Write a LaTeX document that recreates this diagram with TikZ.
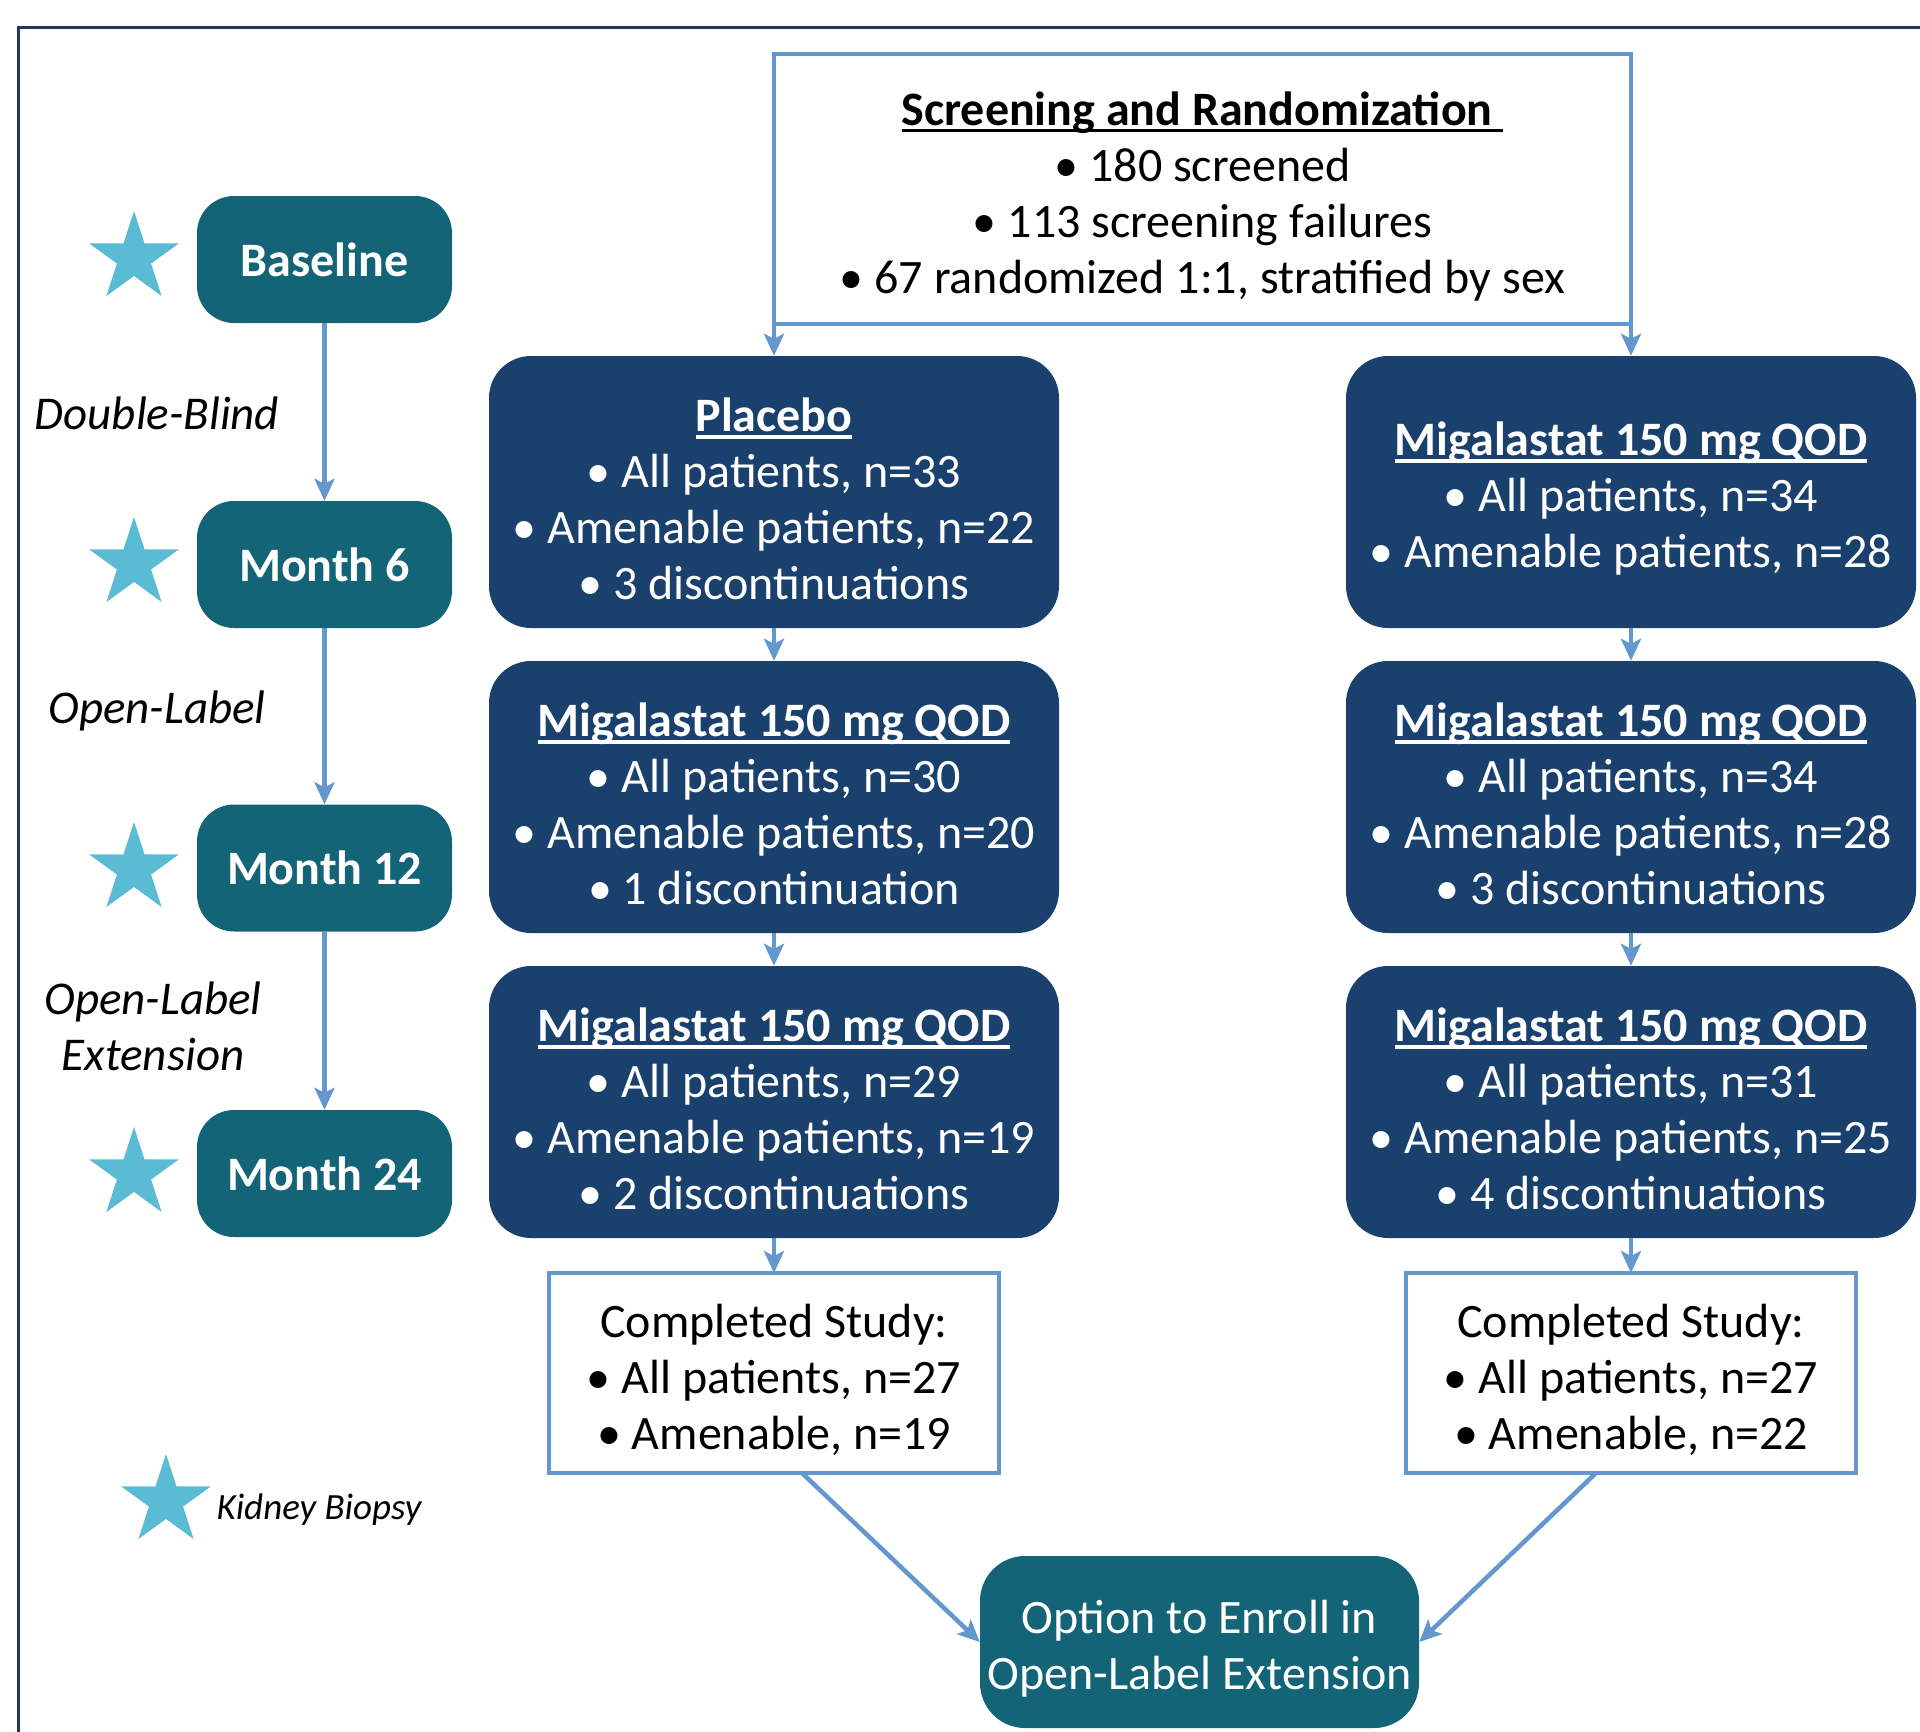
\documentclass[tikz,border=0pt]{standalone}
\usepackage{fontspec}
\setmainfont{Carlito}
\usetikzlibrary{shapes.geometric,arrows.meta}
\definecolor{cTeal}{HTML}{146477}
\definecolor{cNavy}{HTML}{1A406E}
\definecolor{cLine}{HTML}{6397CD}
\definecolor{cStar}{HTML}{5ABBD4}
\definecolor{cFrame}{HTML}{1F3A5F}
\newcommand\myul[1]{\setbox0\hbox{#1}\rlap{\rule[-7pt]{\wd0}{3.5pt}}\box0}
\tikzset{
  timebox/.style={rectangle, rounded corners=37pt, fill=cTeal, text=white,
    minimum width=255pt, minimum height=127pt, inner sep=0pt,
    font=\fontsize{48}{57}\selectfont\bfseries},
  armbox/.style={rectangle, rounded corners=42pt, fill=cNavy,
    minimum width=570pt, minimum height=272pt, inner sep=0pt},
  openbox/.style={rectangle, draw=cLine, line width=4.5pt, fill=white,
    inner sep=0pt, outer sep=0pt},
  optbox/.style={rectangle, rounded corners=45pt, fill=cTeal,
    minimum width=439pt, minimum height=172pt, inner sep=0pt},
  wtxt/.style={text=white, align=center, inner sep=0pt, yshift=-7pt,
    font=\fontsize{48}{56}\selectfont},
  btxt/.style={text=black, align=center, inner sep=0pt, yshift=-7pt,
    font=\fontsize{48}{56}\selectfont},
  arr/.style={draw=cLine, line width=4.5pt, -{Stealth[length=22pt,width=20pt,inset=5pt]}},
  kstar/.style={star, star points=5, star point ratio=2.618, fill=cStar,
    minimum size=94pt, inner sep=0pt, draw=none},
  phase/.style={align=center, font=\fontsize{47}{56}\selectfont\itshape}
}
\begin{document}
\begin{tikzpicture}[x=1pt,y=-1pt]
\useasboundingbox (0,0) rectangle (1920,1732);
% frame
\draw[cFrame, line width=3pt] (18,1732) -- (18,27) -- (1920,27);

% screening
\node[openbox, minimum width=857pt, minimum height=270pt,
  label={[btxt]center:{{\bfseries\myul{Screening and Randomization\ }}\\
   • 180 screened\\
   • 113 screening failures\\
   • 67 randomized 1:1, stratified by sex}}] (sc) at (1202.5,189) {};

% timeline
\node[timebox] (bl) at (324.5,259.5) {Baseline};
\node[timebox] (m6) at (324.5,564.5) {Month 6};
\node[timebox] (m12) at (324.5,868) {Month 12};
\node[timebox] (m24) at (324.5,1173.5) {Month 24};
\draw[arr] (bl) -- (m6);
\draw[arr] (m6) -- (m12);
\draw[arr] (m12) -- (m24);

\node[kstar] (s0) at (134,258) {};
\node[kstar] (s1) at (134,564) {};
\node[kstar] (s2) at (134,869) {};
\node[kstar] (s3) at (134,1174) {};

\node[phase] (p1) at (157,413) {Double-Blind};
\node[phase] (p2) at (157,711) {Open-Label};
\node[phase] (p3) at (153,1026) {Open-Label\\Extension};

% legend
\node[kstar] (ls) at (166,1501) {};
\node[font=\fontsize{37}{44}\selectfont\itshape, anchor=west] (lt) at (213,1510) {Kidney Biopsy};

% arms
\node[armbox, label={[wtxt]center:{{\bfseries\myul{Placebo}}\\ • All patients, n=33\\ • Amenable patients, n=22\\ • 3 discontinuations}}] (a1) at (774,492) {};
\node[armbox, label={[wtxt]center:{{\bfseries\myul{Migalastat 150 mg QOD}}\\ • All patients, n=34\\ • Amenable patients, n=28}}] (b1) at (1631,492) {};
\node[armbox, label={[wtxt]center:{{\bfseries\myul{Migalastat 150 mg QOD}}\\ • All patients, n=30\\ • Amenable patients, n=20\\ • 1 discontinuation}}] (a2) at (774,797) {};
\node[armbox, label={[wtxt]center:{{\bfseries\myul{Migalastat 150 mg QOD}}\\ • All patients, n=34\\ • Amenable patients, n=28\\ • 3 discontinuations}}] (b2) at (1631,797) {};
\node[armbox, label={[wtxt]center:{{\bfseries\myul{Migalastat 150 mg QOD}}\\ • All patients, n=29\\ • Amenable patients, n=19\\ • 2 discontinuations}}] (a3) at (774,1102) {};
\node[armbox, label={[wtxt]center:{{\bfseries\myul{Migalastat 150 mg QOD}}\\ • All patients, n=31\\ • Amenable patients, n=25\\ • 4 discontinuations}}] (b3) at (1631,1102) {};

\node[openbox, minimum width=450pt, minimum height=200pt,
  label={[btxt]center:{Completed Study:\\ • All patients, n=27\\ • Amenable, n=19}}] (ca) at (774,1373) {};
\node[openbox, minimum width=450pt, minimum height=200pt,
  label={[btxt]center:{Completed Study:\\ • All patients, n=27\\ • Amenable, n=22}}] (cb) at (1631,1373) {};

\node[optbox, label={[wtxt]center:{Option to Enroll in\\Open-Label Extension}}] (opt) at (1199.5,1642) {};

% connectors
\draw[arr] (sc.south west) -- (a1.north);
\draw[arr] (sc.south east) -- (b1.north);
\draw[arr] (a1) -- (a2);
\draw[arr] (a2) -- (a3);
\draw[arr] (a3) -- (ca);
\draw[arr] (b1) -- (b2);
\draw[arr] (b2) -- (b3);
\draw[arr] (b3) -- (cb);
\draw[arr] ([xshift=28pt]ca.south) -- (opt.west);
\draw[arr] ([xshift=-35pt]cb.south) -- (opt.east);
\end{tikzpicture}
\end{document}
